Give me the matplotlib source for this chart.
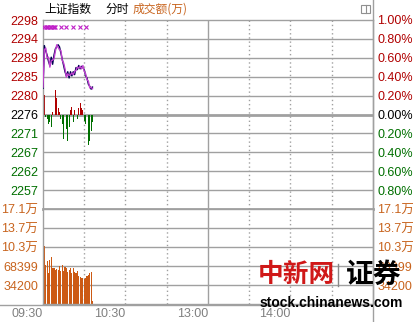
import matplotlib
matplotlib.use("Agg")
import matplotlib.pyplot as plt
from matplotlib.lines import Line2D
from matplotlib.patches import Rectangle
import numpy as np

# ---------------- data ----------------
prev_close = 2276.2
price = [2282.5, 2292.8, 2291.5, 2290.5, 2289.0, 2288.0, 2290.0, 2288.3, 2290.5, 2292.0,
         2292.5, 2293.0, 2292.5, 2291.0, 2289.5, 2288.0, 2286.5, 2285.5, 2286.5, 2285.0,
         2286.5, 2285.5, 2286.5, 2285.8, 2287.5, 2287.0, 2288.0, 2287.2, 2287.8, 2287.5,
         2287.0, 2285.5, 2285.0, 2283.5, 2283.0, 2282.3, 2282.8]
avg_line = [2282.8, 2291.8, 2292.2, 2289.8, 2290.0, 2287.6, 2289.2, 2289.3, 2289.6, 2291.5,
            2293.0, 2292.4, 2291.8, 2291.6, 2289.2, 2288.6, 2287.2, 2285.2, 2286.0, 2285.6,
            2285.8, 2286.2, 2285.8, 2286.6, 2286.8, 2287.6, 2287.4, 2287.8, 2287.2, 2288.0,
            2286.6, 2286.0, 2284.6, 2284.2, 2282.6, 2282.8, 2282.4]
strength = [7.7, 4.8, -0.7, -1.2, -2.2, -1.9, -3.1, 0.5, 1.9, 5.8,
            3.9, 1.5, 0.5, -1.0, -2.4, -5.8, -4.8, -3.4, -6.3, -2.9,
            1.0, 1.7, -1.7, 1.0, -2.2, -1.0, 1.5, 2.7, 1.5, 1.0,
            -1.5, -2.4, -4.4, -7.3, -6.3, -3.9, -1.9]
volume = [157000, 104000, 71000, 77000, 56000, 80000, 84000, 65000, 64000, 62000,
          63000, 61000, 68000, 59000, 70000, 59000, 67000, 65000, 57000, 62000,
          64000, 56000, 65000, 58000, 55000, 60000, 51000, 49000, 47000, 46000,
          45000, 47000, 50000, 52000, 55000, 57000, 5000]
marker_minutes = [1, 2, 3, 4, 5, 6, 7, 8, 9, 13, 17, 22, 27, 31]

pct_ticks = [1.0, 0.8, 0.6, 0.4, 0.2, 0.0, -0.2, -0.4, -0.6, -0.8]
price_labels = ["2298", "2294", "2289", "2285", "2280", "2276", "2271", "2267", "2262", "2257"]
pct_labels = ["1.00%", "0.80%", "0.60%", "0.40%", "0.20%", "0.00%", "0.20%", "0.40%", "0.60%", "0.80%"]
vol_ticks = [34200, 68399, 102599, 136799, 171000]
vol_labels = ["34200", "68399", "10.3万", "13.7万", "17.1万"]
time_ticks = [0, 60, 120, 180]
time_labels = ["09:30", "10:30", "13:00", "14:00"]

# ---------------- style ----------------
RED = "#b00000"
GREEN = "#006f00"
ORANGE = "#c8641e"
BAR_ORANGE = "#cc5a14"
GRID = "#a0a0a0"
NUM = "Liberation Sans"
CJK = ["Noto Sans CJK SC", "DejaVu Sans"]

W, H = 414, 322
fig = plt.figure(figsize=(W / 100, H / 100), dpi=100)
fig.patch.set_facecolor("white")

def fx(px):
    return px / W

def fy(py):
    return 1 - py / H

L, R = 43, 373
ax = fig.add_axes([fx(L), fy(209), fx(R - L), fy(20) - fy(209)])
axv = fig.add_axes([fx(L), fy(304), fx(R - L), fy(209) - fy(304)])

minutes = np.arange(len(price))
ymin = prev_close * (1 - 0.01)
ymax = prev_close * (1 + 0.01)

for a in (ax, axv):
    a.set_xlim(0, 240)
    a.set_facecolor("white")
    for s in a.spines.values():
        s.set_color(GRID)
        s.set_linewidth(1)
    a.tick_params(length=0)
    for m in range(30, 240, 30):
        if m == 120:
            a.axvline(m, color=GRID, lw=1, zorder=1)
        else:
            a.axvline(m, color=GRID, lw=1, ls=(0, (1, 2)), zorder=1)

# price panel
ax.set_ylim(ymin, ymax)
tick_vals = [prev_close * (1 + p / 100) for p in pct_ticks]
for v, p in zip(tick_vals, pct_ticks):
    if p == 0.0:
        ax.axhline(v, color=GRID, lw=2, zorder=1)
    elif p != 1.0:
        ax.axhline(v, color=GRID, lw=1, zorder=1)
ax.spines["bottom"].set_linewidth(2)
ax.set_yticks(tick_vals)
ax.set_yticklabels(price_labels, fontfamily=NUM, fontsize=9)
for lab, p in zip(ax.get_yticklabels(), pct_ticks):
    lab.set_color(RED if p > 0 else (GREEN if p < 0 else "black"))
ax.set_xticks([])

axr = ax.twinx()
axr.set_ylim(ymin, ymax)
axr.set_yticks(tick_vals)
axr.set_yticklabels(pct_labels, fontfamily=NUM, fontsize=9)
for lab, p in zip(axr.get_yticklabels(), pct_ticks):
    lab.set_color(RED if p > 0 else (GREEN if p < 0 else "black"))
axr.tick_params(length=0, pad=3)
for s in axr.spines.values():
    s.set_visible(False)

# strength bars
str_arr = np.array(strength)
cols = [RED if s > 0 else GREEN for s in str_arr]
ax.bar(minutes, str_arr, bottom=prev_close, width=0.6, color=cols, zorder=2)

ax.plot(minutes, price, color="#000050", lw=1.0, zorder=3)
ax.plot(minutes, avg_line, color="#c040d0", lw=1.0, zorder=4)
ax.plot(marker_minutes, [prev_close * 1.0093] * len(marker_minutes), ls="none",
        marker="x", ms=3, mew=0.8, color="#c020c8", zorder=4)

# volume panel
axv.set_ylim(0, 171000)
for v in vol_ticks[:-1]:
    axv.axhline(v, color=GRID, lw=1, zorder=1)
axv.bar(minutes, volume, width=0.8, color=BAR_ORANGE, zorder=2)
axv.set_yticks(vol_ticks)
axv.set_yticklabels(vol_labels, fontsize=9)
for lab in axv.get_yticklabels():
    lab.set_color(ORANGE)
    lab.set_fontfamily([NUM, "Noto Sans CJK SC"])
axv.set_xticks(time_ticks)
axv.set_xticklabels(time_labels, fontfamily=NUM, fontsize=9, color="#808080", ha="right")
axv.tick_params(axis="x", pad=3)

axvr = axv.twinx()
axvr.set_ylim(0, 171000)
axvr.set_yticks(vol_ticks)
axvr.set_yticklabels(vol_labels, fontsize=9)
for lab in axvr.get_yticklabels():
    lab.set_color(ORANGE)
    lab.set_fontfamily([NUM, "Noto Sans CJK SC"])
axvr.tick_params(length=0, pad=3)
for s in axvr.spines.values():
    s.set_visible(False)

# right border line full height and bottom line across
fig.add_artist(Line2D([fx(R), fx(R)], [0, 1], color=GRID, lw=1))
fig.add_artist(Line2D([0, fx(R)], [fy(304.5), fy(304.5)], color=GRID, lw=1))

# title
fig.text(fx(44), fy(9), "上证指数", family=CJK, fontsize=8.5, color="black", va="center")
fig.text(fx(105), fy(9), "分时", family=CJK, fontsize=8.5, color="black", va="center")
fig.text(fx(133), fy(9), "成交额(万)", family=CJK, fontsize=8.5, color=ORANGE, va="center")
fig.add_artist(Rectangle((fx(361), fy(13)), fx(9), fy(5) - fy(13), fill=False,
                         edgecolor="#909090", lw=0.8))
fig.add_artist(Line2D([fx(366), fx(366)], [fy(13), fy(5)], color="#909090", lw=0.8))

# watermark (overlaps right labels, as in the original)
fig.text(fx(258), fy(275), "中新网", family=CJK, fontsize=18.5, fontweight="bold",
         color="#d01818", va="center", style="italic")
fig.add_artist(Line2D([fx(338), fx(338)], [fy(286), fy(264)], color="#888888", lw=1))
fig.text(fx(346), fy(275), "证券", family=CJK, fontsize=20, fontweight="black",
         color="black", va="center")
fig.text(fx(260), fy(303), "stock.chinanews.com", family="Liberation Sans", fontsize=10,
         fontweight="bold", color="black", va="center")

fig.savefig("out.png", dpi=100, facecolor="white")
